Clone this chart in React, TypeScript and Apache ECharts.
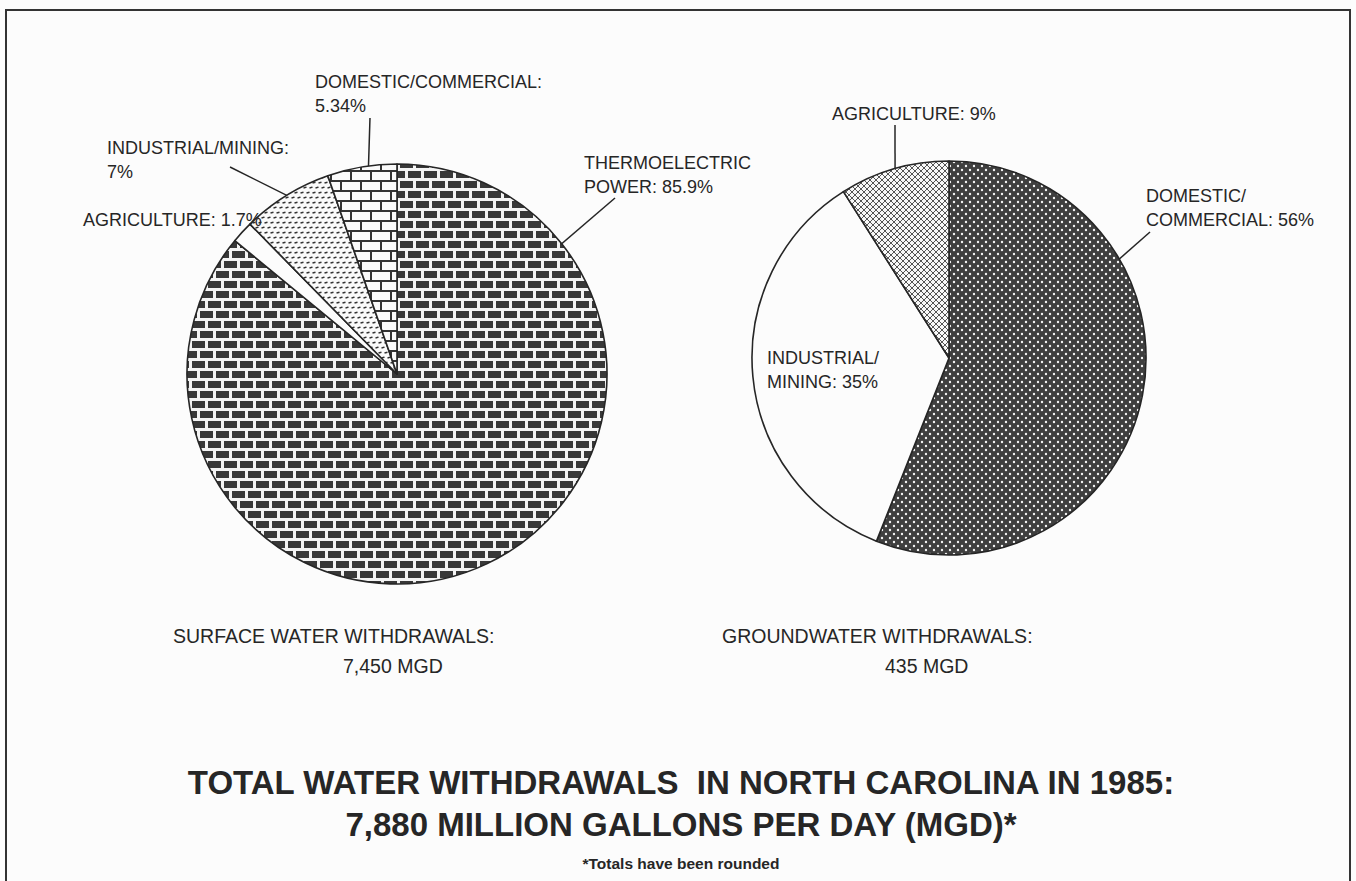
import React, { useEffect, useRef } from 'react';
import * as echarts from 'echarts';

// ---------- DATA ----------
const surfaceCategories = ['THERMOELECTRIC\nPOWER', 'AGRICULTURE', 'INDUSTRIAL/MINING', 'DOMESTIC/COMMERCIAL'];
const surfaceValues = [85.9, 1.7, 7, 5.34];
const surfaceLabelSep = [': ', ': ', ':\n', ':\n'];

const groundCategories = ['DOMESTIC/\nCOMMERCIAL', 'INDUSTRIAL/\nMINING', 'AGRICULTURE'];
const groundValues = [56, 35, 9];
const groundLabelSep = [': ', ': ', ': '];

const surfaceCaption = ['SURFACE WATER WITHDRAWALS:', '7,450 MGD'];
const groundCaption = ['GROUNDWATER WITHDRAWALS:', '435 MGD'];
const mainTitle = ['TOTAL WATER WITHDRAWALS  IN NORTH CAROLINA IN 1985:', '7,880 MILLION GALLONS PER DAY (MGD)*'];
const footnote = '*Totals have been rounded';

// ---------- LAYOUT ----------
const FONT = '"Liberation Sans", Arial, Helvetica, sans-serif';
const INK = '#262626';
const LEFT = { cx: 397, cy: 374, r: 210 };
const RIGHT = { cx: 949, cy: 358, r: 197 };

function polar(g: { cx: number; cy: number; r: number }, deg: number, frac: number): number[] {
  const a = (deg * Math.PI) / 180;
  return [g.cx + g.r * frac * Math.sin(a), g.cy - g.r * frac * Math.cos(a)];
}

type LabelCfg = { x: number; y: number; from?: number[]; to?: [number, number] };
// label anchor (top-left), optional leader line (start offset from anchor, end as angle/radius fraction)
const leftLabelCfg: LabelCfg[] = [
  { x: 584, y: 151, from: [31, 47], to: [52, 0.87] },
  { x: 83, y: 208 },
  { x: 107, y: 136, from: [123, 31], to: [331, 0.93] },
  { x: 315, y: 70, from: [55, 48], to: [352, 0.98] },
];
const rightLabelCfg: LabelCfg[] = [
  { x: 1146, y: 184, from: [4, 48], to: [62, 0.84] },
  { x: 767, y: 346 },
  { x: 832, y: 102, from: [63, 23], to: [340, 0.8] },
];

// ---------- PATTERNS ----------
function makePattern(w: number, h: number, draw: (ctx: CanvasRenderingContext2D) => void) {
  const c = document.createElement('canvas');
  c.width = w;
  c.height = h;
  const ctx = c.getContext('2d') as CanvasRenderingContext2D;
  draw(ctx);
  return { image: c.toDataURL(), repeat: 'repeat', imageWidth: w, imageHeight: h } as any;
}

function buildPatterns() {
  const darkBrick = makePattern(16, 20, (ctx) => {
    ctx.fillStyle = '#f4f4f4';
    ctx.fillRect(0, 0, 16, 20);
    ctx.fillStyle = '#383838';
    ctx.fillRect(0, 1, 13, 7);
    ctx.fillRect(8, 11, 8, 7);
    ctx.fillRect(0, 11, 5, 7);
  });
  const lightBrick = makePattern(20, 20, (ctx) => {
    ctx.fillStyle = '#fafafa';
    ctx.fillRect(0, 0, 20, 20);
    ctx.fillStyle = '#333';
    ctx.fillRect(0, 0, 20, 2);
    ctx.fillRect(0, 10, 20, 2);
    ctx.fillRect(0, 0, 2, 10);
    ctx.fillRect(10, 10, 2, 10);
  });
  const dashes = makePattern(6, 10, (ctx) => {
    ctx.fillStyle = '#fafafa';
    ctx.fillRect(0, 0, 6, 10);
    ctx.strokeStyle = '#333';
    ctx.lineWidth = 1.4;
    ctx.beginPath();
    ctx.moveTo(0.5, 3);
    ctx.lineTo(3.5, 2.2);
    ctx.moveTo(3.5, 8);
    ctx.lineTo(6.5, 7.2);
    ctx.moveTo(-2.5, 8);
    ctx.lineTo(0.5, 7.2);
    ctx.stroke();
  });
  const darkDots = makePattern(8, 8, (ctx) => {
    ctx.fillStyle = '#3f3f3f';
    ctx.fillRect(0, 0, 8, 8);
    ctx.fillStyle = '#f2f2f2';
    ctx.beginPath();
    ctx.arc(2, 2, 1.2, 0, Math.PI * 2);
    ctx.closePath();
    ctx.arc(6, 6, 1.2, 0, Math.PI * 2);
    ctx.fill();
  });
  const cross = makePattern(6, 6, (ctx) => {
    ctx.fillStyle = '#f8f8f8';
    ctx.fillRect(0, 0, 6, 6);
    ctx.strokeStyle = '#555';
    ctx.lineWidth = 1;
    ctx.beginPath();
    ctx.moveTo(0, 0);
    ctx.lineTo(6, 6);
    ctx.moveTo(6, 0);
    ctx.lineTo(0, 6);
    ctx.stroke();
  });
  return { darkBrick, lightBrick, dashes, darkDots, cross };
}

function pieSeries(
  g: { cx: number; cy: number; r: number },
  names: string[],
  values: number[],
  seps: string[],
  fills: any[],
  cfg: LabelCfg[]
) {
  return {
    type: 'pie',
    center: [g.cx, g.cy],
    radius: g.r,
    startAngle: 90,
    clockwise: true,
    avoidLabelOverlap: false,
    silent: true,
    emphasis: { disabled: true },
    itemStyle: { borderColor: INK, borderWidth: 1.6 },
    label: {
      show: true,
      position: 'outside',
      fontFamily: FONT,
      fontSize: 18,
      lineHeight: 24,
      color: INK,
      formatter: (p: any) => `${p.name}${seps[p.dataIndex]}${p.value}%`,
    },
    labelLine: { show: true, length: 4, length2: 4, lineStyle: { color: INK, width: 1.5 } },
    labelLayout: (p: any) => {
      const c = cfg[p.dataIndex];
      const out: any = { x: c.x, y: c.y, align: 'left', verticalAlign: 'top' };
      if (c.from && c.to) {
        out.labelLinePoints = [[c.x + c.from[0], c.y + c.from[1]], polar(g, c.to[0], c.to[1])];
      }
      return out;
    },
    data: values.map((v, i) => ({
      value: v,
      name: names[i],
      itemStyle: { color: fills[i] },
      labelLine: { show: !!cfg[i].from },
    })),
  };
}

export default function App() {
  const ref = useRef<HTMLDivElement>(null);
  useEffect(() => {
    if (!ref.current) return;
    const chart = echarts.init(ref.current, null, { renderer: 'svg' });
    const p = buildPatterns();
    const option: any = {
      animation: false,
      backgroundColor: '#fcfcfc',
      series: [
        pieSeries(LEFT, surfaceCategories, surfaceValues, surfaceLabelSep, [p.darkBrick, '#fcfcfc', p.dashes, p.lightBrick], leftLabelCfg),
        pieSeries(RIGHT, groundCategories, groundValues, groundLabelSep, [p.darkDots, '#fcfcfc', p.cross], rightLabelCfg),
      ],
      graphic: [
        {
          type: 'rect',
          shape: { x: 6, y: 10, width: 1344, height: 900 },
          style: { fill: 'none', stroke: '#333', lineWidth: 2 },
          silent: true,
        },
        { type: 'text', style: { text: surfaceCaption[0], x: 173, y: 636, verticalAlign: 'middle', fontFamily: FONT, fontSize: 19.5, fill: INK } },
        { type: 'text', style: { text: surfaceCaption[1], x: 343, y: 666, verticalAlign: 'middle', fontFamily: FONT, fontSize: 19.5, fill: INK } },
        { type: 'text', style: { text: groundCaption[0], x: 722, y: 636, verticalAlign: 'middle', fontFamily: FONT, fontSize: 19.5, fill: INK } },
        { type: 'text', style: { text: groundCaption[1], x: 885, y: 666, verticalAlign: 'middle', fontFamily: FONT, fontSize: 19.5, fill: INK } },
        { type: 'text', style: { text: mainTitle[0], x: 681, y: 782, align: 'center', verticalAlign: 'middle', fontFamily: FONT, fontWeight: 'bold', fontSize: 33, fill: INK } },
        { type: 'text', style: { text: mainTitle[1], x: 681, y: 824, align: 'center', verticalAlign: 'middle', fontFamily: FONT, fontWeight: 'bold', fontSize: 33, fill: INK } },
        { type: 'text', style: { text: footnote, x: 681, y: 863, align: 'center', verticalAlign: 'middle', fontFamily: FONT, fontWeight: 'bold', fontSize: 15.5, fill: INK } },
      ],
    };
    chart.setOption(option);
    return () => chart.dispose();
  }, []);
  return (
    <div
      ref={ref}
      style={{ position: 'fixed', left: 0, top: 0, width: 1356, height: 881, background: '#fcfcfc' }}
    />
  );
}
